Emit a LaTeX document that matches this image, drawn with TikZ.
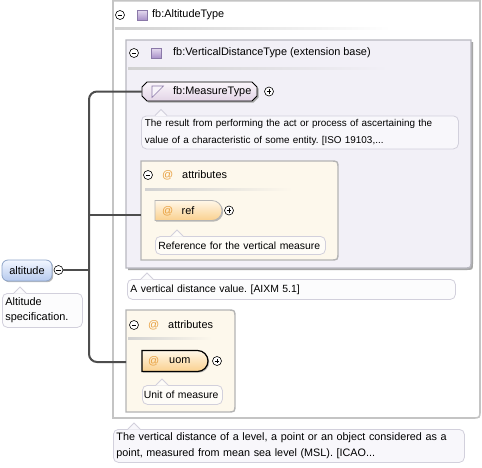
\documentclass[tikz,border=0pt]{standalone}
\usepackage{fontspec}
\setmainfont{Liberation Sans}
\frenchspacing
\usetikzlibrary{shapes.misc,shadows,calc}
\definecolor{outerline}{HTML}{C4C4C4}
\definecolor{innerline}{HTML}{B8B8C0}
\definecolor{innerfill}{HTML}{F2F0F7}
\definecolor{attrfill}{HTML}{FDF8EC}
\definecolor{attrline}{HTML}{B4B4B4}
\definecolor{descfill}{HTML}{F8F7FB}
\definecolor{descline}{HTML}{D2D0DC}
\definecolor{connc}{HTML}{4D4D4D}
\definecolor{atc}{HTML}{E8A040}
\definecolor{sqtop}{HTML}{E6DCF0}
\definecolor{sqbot}{HTML}{A890C8}
\definecolor{sqline}{HTML}{8A78A8}
\definecolor{ortop}{HTML}{FFF7E8}
\definecolor{orbot}{HTML}{FAD08E}
\definecolor{bltop}{HTML}{F2F6FF}
\definecolor{blbot}{HTML}{B6CAEE}
\definecolor{blline}{HTML}{8EA4C8}
\definecolor{mttop}{HTML}{FBF6FB}
\definecolor{mtbot}{HTML}{E2D4E6}
\definecolor{shadowc}{HTML}{A8A8A8}
\tikzset{
  txt/.style={inner sep=0pt, anchor=west, font=\fontsize{10.9}{13}\selectfont},
  minusc/.style={circle, draw=black, line width=0.6pt, inner sep=0pt, minimum size=9pt, fill=white,
    path picture={\draw[line width=0.6pt] ([xshift=2.2pt]path picture bounding box.west) -- ([xshift=-2.2pt]path picture bounding box.east);}},
  plusc/.style={circle, draw=black, line width=0.6pt, inner sep=0pt, minimum size=9pt, fill=white,
    path picture={\draw[line width=0.6pt] ([xshift=2.2pt]path picture bounding box.west) -- ([xshift=-2.2pt]path picture bounding box.east);
                  \draw[line width=0.6pt] ([yshift=-2.2pt]path picture bounding box.north) -- ([yshift=2.2pt]path picture bounding box.south);}},
  sq/.style={rectangle, draw=sqline, line width=0.5pt, top color=sqtop, bottom color=sqbot, minimum size=10pt, inner sep=0pt},
  atsign/.style={inner sep=0pt, anchor=west, text=atc, font=\fontsize{11}{13}\selectfont},
  desc/.style={rectangle, rounded corners=5pt, draw=descline, line width=0.8pt, fill=descfill, anchor=north west,
    inner xsep=2.5pt, inner ysep=2pt, align=left, font=\fontsize{10.4}{16.5}\selectfont},
  attrnode/.style={rounded rectangle, rounded rectangle left arc=none, draw=attrline, line width=0.8pt,
    top color=ortop, bottom color=orbot, minimum height=20pt, inner sep=0pt,
    drop shadow={shadow xshift=1.2pt, shadow yshift=-1.2pt, fill=shadowc, opacity=0.8}},
  conn/.style={draw=connc, line width=2pt},
  sep/.style={left color=black!18, right color=#1},
}
\begin{document}
\begin{tikzpicture}[x=1pt,y=-1pt]
\useasboundingbox (0,0) rectangle (482,467);
% outer box
\draw[outerline, line width=1.6pt, fill=white] (113,0.8) -- (480,0.8) -- (480,410) .. controls (480,418) .. (472,418) -- (113,418) -- cycle;
\node[minusc] (m1) at (120,15) {};
\node[sq] (s1) at (142,15) {};
\node[txt] (t1) at (152,15) {fb:AltitudeType};
\shade[sep=white] (115,27.5) rectangle (390,29.5);
% inner box
\fill[black!35] (128,42) -- (473,42) -- (473,263) .. controls (473,270) .. (466,270) -- (128,270) -- cycle;
\draw[innerline, line width=1.4pt, fill=innerfill] (126,40) -- (471,40) -- (471,261) .. controls (471,268) .. (464,268) -- (126,268) -- cycle;
\node[minusc] (m2) at (134,53) {};
\node[sq] (s2) at (156,53) {};
\node[txt] (t2) at (173,53) {fb:VerticalDistanceType (extension base)};
\shade[sep=innerfill] (128,67) rectangle (388,69);
% measure type
\node[rectangle, minimum width=115pt, minimum height=19pt, inner sep=0pt] (mt) at (199.5,91.5) {};
\fill[shadowc] (148.5,83.5) -- (253.5,83.5) -- (258.5,88.5) -- (258.5,97.5) -- (253.5,102.5) -- (148.5,102.5) -- (143.5,97.5) -- (143.5,88.5) -- cycle;
\shade[draw=black, line width=0.8pt, top color=mttop, bottom color=mtbot]
  (147,82) -- (252,82) -- (257,87) -- (257,96) -- (252,101) -- (147,101) -- (142,96) -- (142,87) -- cycle;
\draw[sqline, line width=0.6pt, fill=white!70!sqtop] (152,97.5) -- (152,86) -- (163.5,86) -- cycle;
\node[txt] (mtt) at (173,91.5) {fb:MeasureType};
\node[plusc] (p1) at (269,91.5) {};
\node[desc, minimum width=317pt, minimum height=33pt, text width=310pt, font=\fontsize{9.9}{16.5}\selectfont] (d1) at (141,115.5)
  {The result from performing the act or process of ascertaining the\\value of a characteristic of some entity. [ISO 19103,...};
\fill[descfill] (155,116) -- (161,109.5) -- (167,116) -- cycle;
\draw[descline, line width=0.8pt] (155,115.5) -- (161,109.5) -- (167,115.5);
% attributes 1
\draw[attrline, line width=1.4pt, fill=attrfill] (141,161) -- (330,161) .. controls (338,161) .. (338,169) -- (338,252) .. controls (338,260) .. (330,260) -- (141,260) -- cycle;
\node[minusc] (m3) at (148,175) {};
\node[atsign] (a1) at (162,175) {@};
\node[txt] (t3) at (182,175) {attributes};
\shade[sep=attrfill] (145,188.5) rectangle (292,190.5);
\node[attrnode, minimum width=67pt] (ref) at (188.5,210.5) {};
\node[atsign] (a2) at (162,211) {@};
\node[txt] (reft) at (181.5,211) {ref};
\node[plusc] (p2) at (229,210.5) {};
\node[desc, fill=attrfill!40!white, minimum width=170pt, minimum height=18pt, text width=164pt] (d2) at (155,236)
  {Reference for the vertical measure};
\fill[attrfill!40!white] (171,236.5) -- (177,230) -- (183,236.5) -- cycle;
\draw[descline, line width=0.8pt] (171,236) -- (177,230) -- (183,236);
\coordinate (a1in) at (141,215);
% vertical distance desc
\node[desc, fill=white!60!descfill, minimum width=328pt, minimum height=20pt, text width=322pt] (d3) at (127,279)
  {A vertical distance value. [AIXM 5.1]};
\fill[white!60!descfill] (141,279.5) -- (147,273) -- (153,279.5) -- cycle;
\draw[descline, line width=0.8pt] (141,279) -- (147,273) -- (153,279);
% attributes 2
\draw[attrline, line width=1.4pt, fill=attrfill] (126,310) -- (227,310) .. controls (235,310) .. (235,318) -- (235,404) .. controls (235,412) .. (227,412) -- (126,412) -- cycle;
\node[minusc] (m4) at (134,325) {};
\node[atsign] (a3) at (148,325) {@};
\node[txt] (t4) at (168,325) {attributes};
\shade[sep=attrfill] (128,337.5) rectangle (212,339.5);
\node[attrnode, draw=black, line width=1.2pt, minimum width=66pt, minimum height=21pt] (uom) at (175,361) {};
\node[atsign] (a4) at (148,361) {@};
\node[txt] (uomt) at (169,361) {uom};
\node[plusc] (p3) at (217,361) {};
\node[desc, fill=attrfill!40!white, minimum width=80pt, minimum height=19pt, inner xsep=1.5pt, text width=77pt] (d4) at (142,385)
  {Unit of measure};
\fill[attrfill!40!white] (156,385.5) -- (162,379) -- (168,385.5) -- cycle;
\draw[descline, line width=0.8pt] (156,385) -- (162,379) -- (168,385);
\coordinate (a2in) at (126,362);
% bottom desc
\node[desc, minimum width=351pt, minimum height=33pt, text width=345pt, font=\fontsize{10.8}{16.5}\selectfont] (d5) at (113,429)
  {The vertical distance of a level, a point or an object considered as a\\point, measured from mean sea level (MSL). [ICAO...};
\fill[descfill] (128,429.5) -- (134,423) -- (140,429.5) -- cycle;
\draw[descline, line width=0.8pt] (128,429) -- (134,423) -- (140,429);
% altitude
\node[rectangle, rounded corners=6pt, draw=blline, line width=0.8pt, top color=bltop, bottom color=blbot,
  minimum width=50pt, minimum height=21pt, inner sep=0pt, font=\fontsize{11}{13}\selectfont,
  drop shadow={shadow xshift=1.2pt, shadow yshift=-1.2pt, fill=shadowc, opacity=0.8}] (alt) at (27,270.5) {altitude};
\node[minusc] (m0) at (58.5,270) {};
\node[desc, fill=white!60!descfill, minimum width=80pt, minimum height=34pt, text width=74pt, font=\fontsize{10.9}{15.5}\selectfont] (d0) at (2,293)
  {Altitude\\specification.};
\fill[white!60!descfill] (14,293.5) -- (20,287) -- (26,293.5) -- cycle;
\draw[descline, line width=0.8pt] (14,293) -- (20,287) -- (26,293);
% connectors
\coordinate (J) at (89,270);
\draw[conn] (m0.east) -- (J);
\draw[conn, rounded corners=8pt] (mt.west) -| (J) |- (a2in);
\draw[conn] (J) |- (a1in);
\end{tikzpicture}
\end{document}
